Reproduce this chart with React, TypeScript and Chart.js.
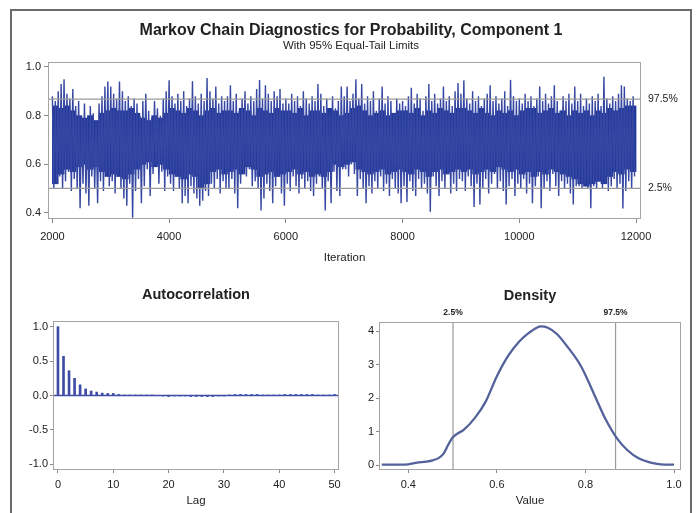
import React, { useEffect, useRef } from 'react';
import { Chart, registerables } from 'chart.js';

Chart.register(...registerables);

// ---------------- data ----------------
const traceStart = 2000;
const traceBin = 50;
// per 50-iteration bin: upper and lower excursion of the chain
const traceHigh = [
  0.88, 0.86, 0.90, 0.93, 0.95, 0.89, 0.87, 0.91, 0.84, 0.86, 0.80, 0.85, 0.79, 0.84, 0.81, 0.78, 0.85, 0.88, 0.92, 0.94,
  0.92, 0.89, 0.87, 0.94, 0.90, 0.86, 0.88, 0.84, 0.87, 0.85, 0.80, 0.86, 0.89, 0.82, 0.79, 0.86, 0.83, 0.80, 0.87, 0.90,
  0.945, 0.88, 0.85, 0.89, 0.86, 0.90, 0.84, 0.87, 0.94, 0.88, 0.85, 0.89, 0.86, 0.955, 0.90, 0.87, 0.92, 0.85, 0.88, 0.86,
  0.88, 0.925, 0.86, 0.89, 0.82, 0.87, 0.90, 0.85, 0.88, 0.86, 0.91, 0.946, 0.87, 0.925, 0.89, 0.86, 0.90, 0.88, 0.91, 0.85,
  0.87, 0.85, 0.89, 0.86, 0.88, 0.84, 0.90, 0.87, 0.85, 0.88, 0.86, 0.93, 0.89, 0.84, 0.87, 0.81, 0.88, 0.83, 0.86, 0.92,
  0.88, 0.92, 0.86, 0.89, 0.95, 0.87, 0.93, 0.85, 0.88, 0.86, 0.90, 0.82, 0.87, 0.92, 0.85, 0.88, 0.86, 0.81, 0.87, 0.85,
  0.86, 0.84, 0.88, 0.915, 0.85, 0.89, 0.87, 0.82, 0.88, 0.93, 0.86, 0.89, 0.85, 0.87, 0.92, 0.86, 0.88, 0.84, 0.90, 0.934,
  0.89, 0.945, 0.87, 0.85, 0.90, 0.86, 0.88, 0.84, 0.87, 0.89, 0.925, 0.86, 0.88, 0.85, 0.87, 0.90, 0.84, 0.947, 0.88, 0.86,
  0.87, 0.85, 0.89, 0.86, 0.88, 0.84, 0.87, 0.92, 0.86, 0.89, 0.85, 0.88, 0.925, 0.86, 0.82, 0.88, 0.86, 0.89, 0.85, 0.92,
  0.86, 0.89, 0.84, 0.87, 0.85, 0.88, 0.86, 0.89, 0.84, 0.96, 0.87, 0.85, 0.88, 0.86, 0.89, 0.925, 0.92, 0.87, 0.86, 0.88,
];
const traceLow = [
  0.50, 0.52, 0.55, 0.50, 0.53, 0.57, 0.49, 0.54, 0.50, 0.42, 0.52, 0.48, 0.43, 0.55, 0.50, 0.44, 0.53, 0.49, 0.56, 0.51,
  0.53, 0.48, 0.55, 0.50, 0.46, 0.43, 0.52, 0.38, 0.49, 0.54, 0.44, 0.51, 0.58, 0.47, 0.56, 0.60, 0.52, 0.57, 0.49, 0.55,
  0.52, 0.49, 0.55, 0.50, 0.44, 0.47, 0.44, 0.51, 0.48, 0.46, 0.43, 0.45, 0.49, 0.47, 0.52, 0.50, 0.54, 0.48, 0.53, 0.50,
  0.50, 0.54, 0.48, 0.42, 0.52, 0.56, 0.55, 0.58, 0.51, 0.53, 0.50, 0.41, 0.46, 0.52, 0.49, 0.44, 0.51, 0.55, 0.48, 0.43,
  0.52, 0.49, 0.55, 0.51, 0.48, 0.54, 0.50, 0.53, 0.49, 0.47, 0.52, 0.55, 0.50, 0.41, 0.53, 0.44, 0.57, 0.49, 0.47, 0.58,
  0.58, 0.55, 0.60, 0.56, 0.47, 0.54, 0.50, 0.44, 0.51, 0.48, 0.53, 0.50, 0.55, 0.49, 0.52, 0.47, 0.54, 0.50, 0.48, 0.44,
  0.51, 0.445, 0.53, 0.49, 0.47, 0.54, 0.50, 0.52, 0.48, 0.405, 0.55, 0.51, 0.47, 0.53, 0.50, 0.56, 0.48, 0.52, 0.49, 0.54,
  0.53, 0.49, 0.55, 0.51, 0.425, 0.52, 0.435, 0.50, 0.54, 0.48, 0.52, 0.56, 0.50, 0.53, 0.49, 0.435, 0.51, 0.54, 0.47, 0.52,
  0.50, 0.54, 0.48, 0.52, 0.44, 0.51, 0.55, 0.42, 0.50, 0.53, 0.49, 0.56, 0.51, 0.47, 0.53, 0.50, 0.52, 0.48, 0.435, 0.51,
  0.51, 0.50, 0.52, 0.50, 0.42, 0.51, 0.50, 0.53, 0.50, 0.52, 0.49, 0.51, 0.54, 0.50, 0.52, 0.418, 0.49, 0.53, 0.50, 0.55,
];
// dense central mass of the chain per 100-iteration block
const coreBin = 100;
const traceCoreHigh = [
  0.84, 0.83, 0.84, 0.82, 0.80, 0.79, 0.80, 0.78, 0.81, 0.82,
  0.83, 0.82, 0.82, 0.83, 0.81, 0.79, 0.78, 0.80, 0.79, 0.81,
  0.83, 0.82, 0.81, 0.83, 0.82, 0.80, 0.82, 0.83, 0.81, 0.82,
  0.82, 0.81, 0.83, 0.82, 0.80, 0.83, 0.82, 0.81, 0.83, 0.82,
  0.82, 0.81, 0.83, 0.80, 0.82, 0.82, 0.81, 0.83, 0.82, 0.80,
  0.81, 0.83, 0.84, 0.82, 0.80, 0.81, 0.82, 0.80, 0.81, 0.82,
  0.82, 0.81, 0.83, 0.80, 0.82, 0.81, 0.83, 0.82, 0.81, 0.83,
  0.83, 0.82, 0.81, 0.83, 0.81, 0.80, 0.82, 0.81, 0.82, 0.80,
  0.82, 0.83, 0.83, 0.81, 0.82, 0.83, 0.81, 0.82, 0.80, 0.82,
  0.81, 0.82, 0.80, 0.82, 0.81, 0.83, 0.82, 0.83, 0.84, 0.84,
];
const traceCoreLow = [
  0.52, 0.56, 0.58, 0.57, 0.59, 0.60, 0.58, 0.59, 0.57, 0.55,
  0.56, 0.55, 0.54, 0.56, 0.58, 0.60, 0.61, 0.59, 0.60, 0.58,
  0.56, 0.55, 0.54, 0.56, 0.55, 0.50, 0.52, 0.57, 0.58, 0.56,
  0.57, 0.58, 0.56, 0.59, 0.58, 0.55, 0.56, 0.57, 0.55, 0.56,
  0.57, 0.58, 0.56, 0.57, 0.55, 0.56, 0.55, 0.57, 0.60, 0.59,
  0.60, 0.61, 0.58, 0.57, 0.56, 0.57, 0.58, 0.56, 0.57, 0.58,
  0.57, 0.56, 0.58, 0.57, 0.55, 0.57, 0.58, 0.56, 0.57, 0.58,
  0.57, 0.58, 0.56, 0.57, 0.58, 0.57, 0.59, 0.58, 0.57, 0.58,
  0.56, 0.57, 0.55, 0.57, 0.56, 0.58, 0.57, 0.56, 0.55, 0.54,
  0.52, 0.51, 0.52, 0.53, 0.52, 0.55, 0.57, 0.56, 0.58, 0.57,
];
const traceXTicks = [2000, 4000, 6000, 8000, 10000, 12000];
const traceYTicks = [0.4, 0.6, 0.8, 1.0];
const limitLower = 0.501;
const limitUpper = 0.868;
const limitLowerLabel = '2.5%';
const limitUpperLabel = '97.5%';

const acfLags = [
  0, 1, 2, 3, 4, 5, 6, 7, 8, 9, 10, 11, 12, 13, 14, 15, 16, 17, 18, 19, 20, 21, 22, 23, 24, 25,
  26, 27, 28, 29, 30, 31, 32, 33, 34, 35, 36, 37, 38, 39, 40, 41, 42, 43, 44, 45, 46, 47, 48, 49, 50,
];
const acfValues = [
  1.0, 0.57, 0.36, 0.25, 0.155, 0.095, 0.065, 0.05, 0.035, 0.03, 0.03, 0.015, 0.005, 0.003, 0.002, 0.001, 0.002,
  0.001, 0.0, -0.002, -0.015, -0.003, -0.002, -0.004, -0.015, -0.015, -0.015, -0.015, -0.015, -0.004, -0.002, 0.003,
  0.015, 0.015, 0.015, 0.015, 0.015, 0.004, 0.002, 0.003, 0.004, 0.015, 0.015, 0.015, 0.015, 0.015, 0.015, 0.003,
  0.002, 0.004, 0.015,
];
const acfXTicks = [0, 10, 20, 30, 40, 50];
const acfYTicks = [-1, -0.5, 0, 0.5, 1];

const densityX = [
  0.34, 0.36, 0.38, 0.40, 0.42, 0.44, 0.455, 0.47, 0.48, 0.49, 0.50, 0.51, 0.525, 0.55, 0.575, 0.60, 0.625, 0.65,
  0.67, 0.69, 0.70, 0.715, 0.735, 0.76, 0.79, 0.82, 0.845, 0.87, 0.895, 0.92, 0.945, 0.97, 1.0,
];
const densityY = [
  0.01, 0.01, 0.01, 0.02, 0.07, 0.10, 0.14, 0.22, 0.35, 0.60, 0.82, 0.93, 1.05, 1.40, 1.90, 2.65, 3.25, 3.68,
  3.92, 4.10, 4.14, 4.10, 3.92, 3.52, 2.95, 2.10, 1.38, 0.82, 0.44, 0.20, 0.08, 0.02, 0.01,
];
const densityXTicks = [0.4, 0.6, 0.8, 1.0];
const densityYTicks = [0, 1, 2, 3, 4];

const mainTitle = 'Markov Chain Diagnostics for Probability, Component 1';
const subTitle = 'With 95% Equal-Tail Limits';

// ---------------- styles ----------------
const FONT = '"Liberation Sans", Arial, sans-serif';
const TEXT = '#222222';
const FRAME = '#a4a4a4';
const TICK = '#8a8a8a';
const REF = '#9a9a9a';
const TRACE_CORE = '#22379a';
const TRACE_LINE = '#3547a2';
const ACF_COLOR = '#3e4ca6';
const DENS_COLOR = '#53629a';
const W = 698;
const H = 513;

type Fmt = (v: number) => string;

function axis(min: number, max: number, ticks: number[], fmt: Fmt, size: number, tickLength: number, padding: number) {
  return {
    type: 'linear' as const,
    min,
    max,
    offset: false,
    afterBuildTicks: (s: any) => {
      s.ticks = ticks.map((v) => ({ value: v }));
    },
    afterFit: (s: any) => {
      if (s.isHorizontal()) s.height = size;
      else s.width = size;
    },
    grid: {
      display: true,
      offset: false,
      drawOnChartArea: false,
      drawTicks: true,
      tickLength,
      tickColor: TICK,
      tickWidth: 1,
    },
    border: { display: false },
    ticks: {
      autoSkip: false,
      maxRotation: 0,
      minRotation: 0,
      padding,
      color: TEXT,
      font: { family: FONT, size: 11 },
      callback: (v: any) => fmt(Number(v)),
    },
  };
}

function drawFrame(ctx: CanvasRenderingContext2D, a: any) {
  ctx.strokeStyle = FRAME;
  ctx.lineWidth = 1;
  const l = Math.round(a.left);
  const t = Math.round(a.top);
  const r = Math.round(a.right);
  const b = Math.round(a.bottom);
  ctx.strokeRect(l + 0.5, t + 0.5, r - l - 1, b - t - 1);
}

function text(ctx: CanvasRenderingContext2D, s: string, x: number, y: number, font: string, align: CanvasTextAlign = 'center') {
  ctx.font = font;
  ctx.fillStyle = TEXT;
  ctx.textAlign = align;
  ctx.textBaseline = 'middle';
  ctx.fillText(s, x, y);
}

function decor(id: string, draw: (ctx: CanvasRenderingContext2D, chart: any) => void) {
  return {
    id,
    afterDraw(chart: any) {
      const ctx = chart.ctx as CanvasRenderingContext2D;
      ctx.save();
      drawFrame(ctx, chart.chartArea);
      draw(ctx, chart);
      ctx.restore();
    },
  };
}

const baseOptions = {
  animation: false as const,
  responsive: false,
  maintainAspectRatio: false,
  events: [] as any[],
  plugins: { legend: { display: false }, tooltip: { enabled: false }, title: { display: false } },
};

function traceConfig(): any {
  const xMin = 1925;
  const xMax = 12085;
  const pts: { x: number; y: number }[] = [];
  const n = Math.min(traceHigh.length, traceLow.length);
  for (let i = 0; i < n; i++) {
    pts.push({ x: traceStart + i * traceBin, y: traceHigh[i] });
    pts.push({ x: traceStart + i * traceBin + traceBin / 2, y: traceLow[i] });
  }
  const core = traceCoreHigh.map((h, i) => ({ x: traceStart + i * coreBin + coreBin / 2, y: [traceCoreLow[i], h] }));
  const left = 48, top = 62, right = 641, bottom = 219;
  const yW = 40, xH = 30;
  return {
    type: 'line',
    data: {
      datasets: [
        { data: [{ x: xMin, y: limitUpper }, { x: xMax, y: limitUpper }], borderColor: REF, borderWidth: 1.2, pointRadius: 0, order: 0 },
        { data: [{ x: xMin, y: limitLower }, { x: xMax, y: limitLower }], borderColor: REF, borderWidth: 1.2, pointRadius: 0, order: 0 },
        // tiny tension keeps segments straight but avoids the per-pixel fast path
        { data: pts, borderColor: TRACE_LINE, borderWidth: 1.4, pointRadius: 0, tension: 0.0001, order: 1 },
        {
          type: 'bar',
          data: core,
          backgroundColor: TRACE_CORE,
          borderWidth: 0,
          barPercentage: 1,
          categoryPercentage: 1,
          grouped: false,
          order: 2,
        },
      ],
    },
    options: {
      ...baseOptions,
      layout: { padding: { left: left - yW, top, right: W - right, bottom: H - bottom - xH } },
      scales: {
        x: axis(xMin, xMax, traceXTicks, (v) => String(v), xH, 4, 7),
        y: axis(0.3753, 1.0205, traceYTicks, (v) => v.toFixed(1), yW, 4, 3),
      },
    },
    plugins: [
      decor('traceDecor', (ctx, chart) => {
        const a = chart.chartArea;
        const ys = chart.scales.y;
        text(ctx, mainTitle, 351, 31, `bold 16px ${FONT}`);
        text(ctx, subTitle, 351, 46, `11.5px ${FONT}`);
        text(ctx, 'Iteration', (a.left + a.right) / 2, 258, `11.5px ${FONT}`);
        text(ctx, limitUpperLabel, a.right + 7, ys.getPixelForValue(limitUpper), `10.5px ${FONT}`, 'left');
        text(ctx, limitLowerLabel, a.right + 7, ys.getPixelForValue(limitLower), `10.5px ${FONT}`, 'left');
      }),
    ],
  };
}

function acfConfig(): any {
  const xMin = -0.9;
  const xMax = 50.8;
  const left = 53, top = 321, right = 339, bottom = 470;
  const yW = 40, xH = 30;
  return {
    type: 'bar',
    data: {
      datasets: [
        {
          type: 'line',
          data: [{ x: xMin, y: 0 }, { x: xMax, y: 0 }],
          borderColor: ACF_COLOR,
          borderWidth: 1.3,
          pointRadius: 0,
          order: 0,
        },
        {
          type: 'bar',
          data: acfLags.map((l, i) => ({ x: l, y: acfValues[i] })),
          backgroundColor: ACF_COLOR,
          borderWidth: 0,
          barThickness: 2,
          order: 1,
        },
      ],
    },
    options: {
      ...baseOptions,
      layout: { padding: { left: left - yW, top, right: W - right, bottom: H - bottom - xH } },
      scales: {
        x: axis(xMin, xMax, acfXTicks, (v) => String(v), xH, 3, 5),
        y: axis(-1.083, 1.083, acfYTicks, (v) => v.toFixed(1), yW, 3, 2),
      },
    },
    plugins: [
      decor('acfDecor', (ctx, chart) => {
        const a = chart.chartArea;
        text(ctx, 'Autocorrelation', (a.left + a.right) / 2, 295, `bold 14.5px ${FONT}`);
        text(ctx, 'Lag', (a.left + a.right) / 2, 501, `11.5px ${FONT}`);
      }),
    ],
  };
}

function densityConfig(): any {
  const yMin = -0.149;
  const yMax = 4.27;
  const left = 379, top = 322, right = 681, bottom = 470;
  const yW = 30, xH = 30;
  return {
    type: 'line',
    data: {
      datasets: [
        { data: [{ x: limitLower, y: yMin }, { x: limitLower, y: yMax }], borderColor: REF, borderWidth: 1.2, pointRadius: 0, order: 1 },
        { data: [{ x: limitUpper, y: yMin }, { x: limitUpper, y: yMax }], borderColor: REF, borderWidth: 1.2, pointRadius: 0, order: 1 },
        {
          data: densityX.map((x, i) => ({ x, y: densityY[i] })),
          borderColor: DENS_COLOR,
          borderWidth: 2.3,
          pointRadius: 0,
          cubicInterpolationMode: 'monotone',
          order: 0,
        },
      ],
    },
    options: {
      ...baseOptions,
      layout: { padding: { left: left - yW, top, right: W - right, bottom: H - bottom - xH } },
      scales: {
        x: axis(0.3338, 1.0158, densityXTicks, (v) => v.toFixed(1), xH, 3, 5),
        y: axis(yMin, yMax, densityYTicks, (v) => String(v), yW, 3, 2),
      },
    },
    plugins: [
      decor('densDecor', (ctx, chart) => {
        const a = chart.chartArea;
        const xs = chart.scales.x;
        text(ctx, 'Density', (a.left + a.right) / 2, 296, `bold 14.5px ${FONT}`);
        text(ctx, 'Value', (a.left + a.right) / 2, 501, `11.5px ${FONT}`);
        text(ctx, limitLowerLabel, xs.getPixelForValue(limitLower), 313, `bold 8.5px ${FONT}`);
        text(ctx, limitUpperLabel, xs.getPixelForValue(limitUpper), 313, `bold 8.5px ${FONT}`);
      }),
    ],
  };
}

export default function App() {
  const r1 = useRef<HTMLCanvasElement>(null);
  const r2 = useRef<HTMLCanvasElement>(null);
  const r3 = useRef<HTMLCanvasElement>(null);

  useEffect(() => {
    const charts: Chart[] = [];
    if (r1.current) charts.push(new Chart(r1.current, traceConfig()));
    if (r2.current) charts.push(new Chart(r2.current, acfConfig()));
    if (r3.current) charts.push(new Chart(r3.current, densityConfig()));
    return () => charts.forEach((c) => c.destroy());
  }, []);

  const canvasStyle: React.CSSProperties = { position: 'absolute', left: 0, top: 0, width: W, height: H };

  return (
    <div style={{ position: 'fixed', left: 0, top: 0, width: W, height: H, overflow: 'hidden', background: '#ffffff' }}>
      <div
        style={{
          position: 'absolute',
          left: 10,
          top: 9,
          width: 678,
          height: 600,
          borderLeft: '2px solid #6b6b6b',
          borderTop: '2px solid #6b6b6b',
          borderRight: '2px solid #6b6b6b',
        }}
      />
      <canvas ref={r1} width={W} height={H} style={canvasStyle} />
      <canvas ref={r2} width={W} height={H} style={canvasStyle} />
      <canvas ref={r3} width={W} height={H} style={canvasStyle} />
    </div>
  );
}
